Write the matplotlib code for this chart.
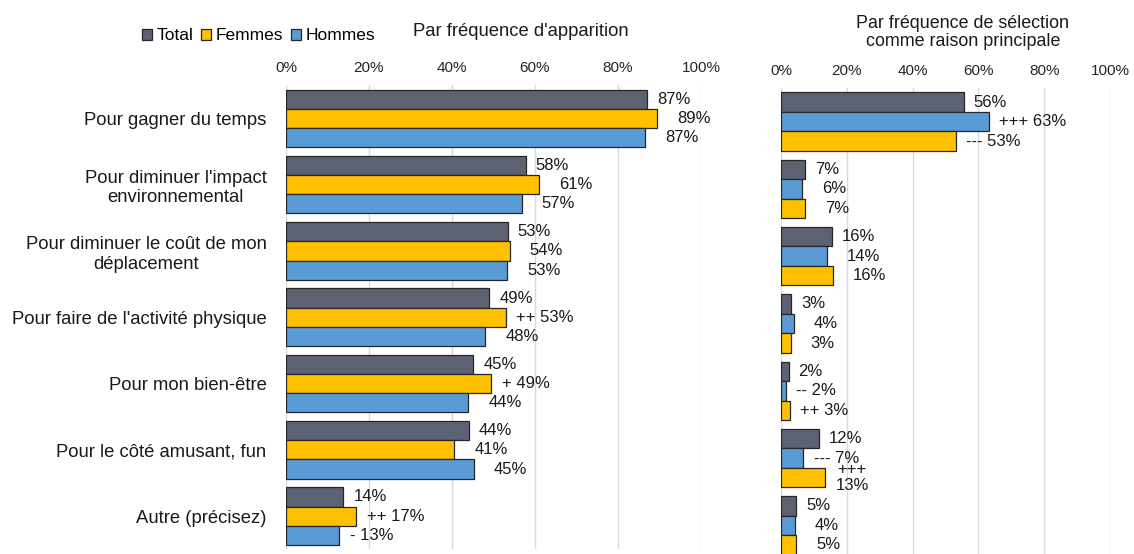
import matplotlib
matplotlib.use("Agg")
import matplotlib.pyplot as plt
from matplotlib.patches import Patch

plt.rcParams['font.family'] = ['Liberation Sans', 'DejaVu Sans']

# ---------------- data ----------------
categories = [
    "Pour gagner du temps",
    "Pour diminuer l'impact\nenvironnemental",
    "Pour diminuer le coût de mon\ndéplacement",
    "Pour faire de l'activité physique",
    "Pour mon bien-être",
    "Pour le côté amusant, fun",
    "Autre (précisez)",
]
series_names = ["Total", "Femmes", "Hommes"]
ticks = [0, 20, 40, 60, 80, 100]
tick_labels = ["0%", "20%", "40%", "60%", "80%", "100%"]

# Left panel: by frequency of appearance
left_total = [87.0, 57.8, 53.4, 49.0, 45.1, 44.0, 13.8]
left_femmes = [89.4, 60.9, 53.9, 52.9, 49.5, 40.6, 16.9]
left_hommes = [86.6, 56.8, 53.3, 48.0, 43.9, 45.3, 12.8]
left_total_lbl = ["87%", "58%", "53%", "49%", "45%", "44%", "14%"]
left_femmes_lbl = ["89%", "61%", "54%", "++ 53%", "+ 49%", "41%", "++ 17%"]
left_hommes_lbl = ["87%", "57%", "53%", "48%", "44%", "45%", "- 13%"]

# Right panel: by frequency of selection as main reason
right_total = [55.5, 7.2, 15.5, 3.1, 2.3, 11.5, 4.7]
right_hommes = [63.1, 6.4, 14.0, 3.8, 1.4, 6.7, 4.2]
right_femmes = [53.1, 7.3, 15.8, 2.9, 2.6, 13.3, 4.7]
right_total_lbl = ["56%", "7%", "16%", "3%", "2%", "12%", "5%"]
right_hommes_lbl = ["+++ 63%", "6%", "14%", "4%", "-- 2%", "--- 7%", "4%"]
right_femmes_lbl = ["--- 53%", "7%", "16%", "3%", "++ 3%", "+++\n13%", "5%"]

# ---------------- style ----------------
C_TOTAL = "#5D6273"
C_FEM = "#FFC000"
C_HOM = "#5B9BD5"
EDGE = "#262626"
GRID = "#D9D9D9"
TXT = "#1a1a1a"

W, H = 1134, 554
fig = plt.figure(figsize=(W / 100, H / 100), dpi=100)


def px_rect(x0, y_top, w, h):
    return [x0 / W, (H - y_top - h) / H, w / W, h / H]


ax1 = fig.add_axes(px_rect(286, 85.2, 415, 464.1))
ax2 = fig.add_axes(px_rect(781, 88.0, 329, 471.0))

bh = 0.29


def offset_for(lbl, is_total):
    if is_total:
        return 7.2
    if lbl.startswith("+") or lbl.startswith("-"):
        return 7.6
    return 14.4


def draw(ax, series, bh):
    n = len(categories)
    for k, (vals, lbls, color, is_total) in enumerate(series):
        pos = [i + (k - 1) * bh for i in range(n)]
        bars = ax.barh(pos, vals, height=bh, color=color, edgecolor=EDGE,
                       linewidth=0.9, zorder=3)
        for b, v, lbl, p in zip(bars, vals, lbls, pos):
            ax.annotate(lbl, xy=(v, p), xytext=(offset_for(lbl, is_total), 0),
                        textcoords="offset points", ha="left", va="center",
                        multialignment="center", fontsize=12, color=TXT,
                        linespacing=1.1)
    ax.set_xlim(0, 100)
    ax.set_ylim(n - 0.5, -0.5)
    ax.set_xticks(ticks)
    ax.set_xticklabels(tick_labels)
    ax.xaxis.tick_top()
    ax.tick_params(axis="x", length=0, pad=7, labelsize=11, labelcolor="#262626")
    ax.grid(axis="x", color=GRID, linewidth=1.0, zorder=0)
    ax.set_axisbelow(True)
    for s in ax.spines.values():
        s.set_visible(False)


draw(ax1, [(left_total, left_total_lbl, C_TOTAL, True),
           (left_femmes, left_femmes_lbl, C_FEM, False),
           (left_hommes, left_hommes_lbl, C_HOM, False)], bh)
draw(ax2, [(right_total, right_total_lbl, C_TOTAL, True),
           (right_hommes, right_hommes_lbl, C_HOM, False),
           (right_femmes, right_femmes_lbl, C_FEM, False)], bh)

ax1.set_yticks(range(len(categories)))
ax1.set_yticklabels(categories, fontsize=13.3, color=TXT)
for t in ax1.get_yticklabels():
    t.set_multialignment("center")
ax1.tick_params(axis="y", length=0, pad=14)
ax2.set_yticks([])

# titles
fig.text(520.8 / W, 1 - 31.5 / H, "Par fréquence d'apparition", ha="center",
         va="center", fontsize=13.3, color=TXT)
fig.text(963 / W, 1 - 32.5 / H, "Par fréquence de sélection\ncomme raison principale",
         ha="center", va="center", fontsize=12.9, color=TXT, linespacing=1.15)

# legend
handles = [Patch(facecolor=c, edgecolor=EDGE, linewidth=0.9)
           for c in (C_TOTAL, C_FEM, C_HOM)]
fig.legend(handles, series_names, loc="center left",
           bbox_to_anchor=(141.5 / W, 1 - 36 / H), ncol=3, frameon=False,
           fontsize=12.5, handlelength=0.58, handleheight=0.55,
           handletextpad=0.27, columnspacing=0.45, borderpad=0,
           borderaxespad=0)

fig.savefig("out.png", dpi=100)
